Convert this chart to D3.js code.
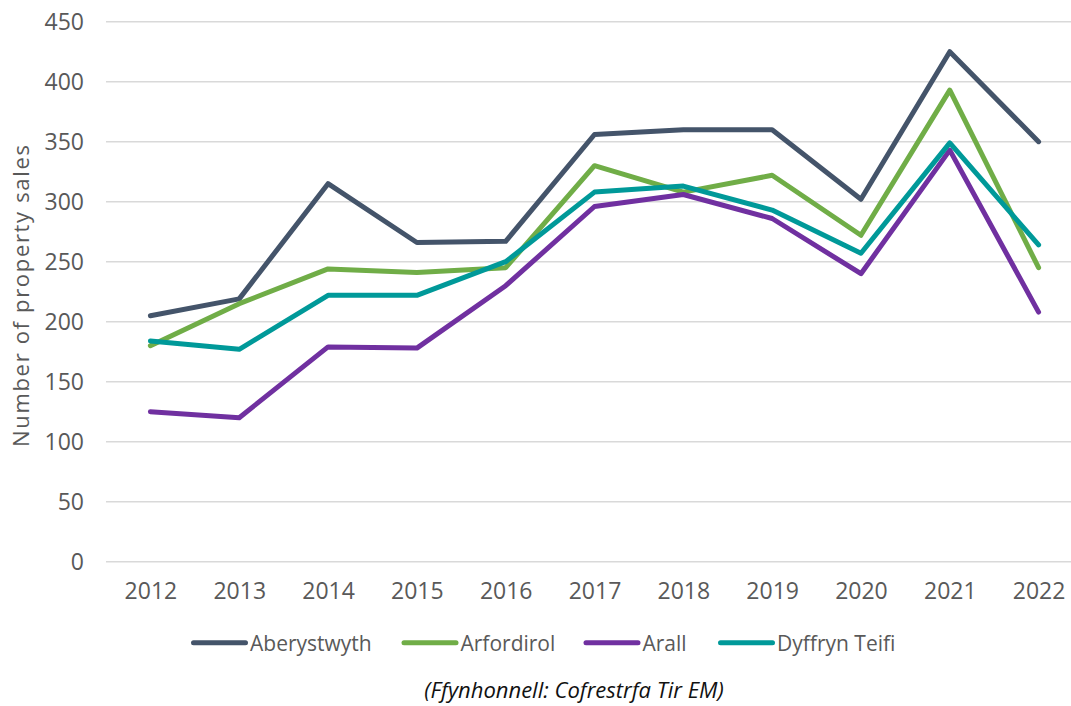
<!DOCTYPE html>
<html>
<head>
<meta charset="utf-8">
<script src="https://cdn.jsdelivr.net/npm/d3@7"></script>
<style>
  html, body { margin: 0; padding: 0; background: #fff; }
  svg { display: block; font-family: "Open Sans", "Liberation Sans", sans-serif; }
</style>
</head>
<body>
<svg id="chart" width="1071" height="706"></svg>
<script>
// Property sales by area, 2012–2022
const years = ["2012","2013","2014","2015","2016","2017","2018","2019","2020","2021","2022"];
const aberystwyth = [205, 219, 315, 266, 267, 356, 360, 360, 302, 425, 350];
const arfordirol  = [180, 215, 244, 241, 245, 330, 308, 322, 272, 393, 245];
const arall       = [125, 120, 179, 178, 230, 296, 306, 286, 240, 343, 208];
const dyffryn     = [184, 177, 222, 222, 250, 308, 313, 293, 257, 349, 264];
const seriesNames = ["Aberystwyth", "Arfordirol", "Arall", "Dyffryn Teifi"];
const seriesColors = ["#44546A", "#70AD47", "#7030A0", "#009999"];
const yTicks = [0, 50, 100, 150, 200, 250, 300, 350, 400, 450];

const series = [aberystwyth, arfordirol, arall, dyffryn].map((vals, i) => ({
  name: seriesNames[i], color: seriesColors[i], values: vals
}));

const svg = d3.select("#chart");
const plotLeft = 106, plotRight = 1083, plotTop = 21.7, plotBottom = 561.7;

const x = d3.scalePoint().domain(years).range([plotLeft, plotRight]).padding(0.5);
const y = d3.scaleLinear().domain([0, 450]).range([plotBottom, plotTop]);

const textColor = "#595959";

// horizontal gridlines
svg.append("g")
  .selectAll("line")
  .data(yTicks)
  .join("line")
  .attr("x1", plotLeft).attr("x2", 1071)
  .attr("y1", d => y(d)).attr("y2", d => y(d))
  .attr("stroke", "#D9D9D9").attr("stroke-width", 1.5);

// y axis labels
const yAxis = svg.append("g")
  .attr("transform", `translate(${plotLeft},0)`)
  .call(d3.axisLeft(y).tickValues(yTicks).tickSize(0).tickPadding(22));
yAxis.select(".domain").remove();
yAxis.selectAll("text")
  .attr("fill", textColor)
  .style("font-size", "23px")
  .style("font-family", "\"Open Sans\", sans-serif");

// x axis labels
const xAxis = svg.append("g")
  .attr("transform", `translate(0,${plotBottom})`)
  .call(d3.axisBottom(x).tickSize(0).tickPadding(21));
xAxis.select(".domain").remove();
xAxis.selectAll("text")
  .attr("fill", textColor)
  .style("font-size", "23px")
  .style("font-family", "\"Open Sans\", sans-serif");

// y axis title
svg.append("text")
  .attr("transform", "translate(29,296) rotate(-90)")
  .attr("text-anchor", "middle")
  .attr("fill", textColor)
  .attr("textLength", 302)
  .attr("lengthAdjust", "spacing")
  .style("font-size", "22px")
  .text("Number of property sales");

// series lines
const line = d3.line()
  .x((d, i) => x(years[i]))
  .y(d => y(d));

svg.append("g")
  .selectAll("path")
  .data(series)
  .join("path")
  .attr("d", d => line(d.values))
  .attr("fill", "none")
  .attr("stroke", d => d.color)
  .attr("stroke-width", 5)
  .attr("stroke-linejoin", "round")
  .attr("stroke-linecap", "round");

// legend
const legendX = [191, 401.5, 583.5, 718];
const legendY = 642.7;
const lg = svg.append("g")
  .selectAll("g")
  .data(series)
  .join("g")
  .attr("transform", (d, i) => `translate(${legendX[i]},${legendY})`);
lg.append("line")
  .attr("x1", 2.5).attr("x2", 54.5)
  .attr("stroke", d => d.color)
  .attr("stroke-width", 5)
  .attr("stroke-linecap", "round");
lg.append("text")
  .attr("x", 59).attr("y", 8.5)
  .attr("fill", textColor)
  .style("font-size", "21px")
  .text(d => d.name);

// source note
svg.append("text")
  .attr("x", 574).attr("y", 698)
  .attr("text-anchor", "middle")
  .attr("fill", "#111")
  .style("font-size", "22px")
  .style("font-style", "italic")
  .text("(Ffynhonnell: Cofrestrfa Tir EM)");
</script>
</body>
</html>
